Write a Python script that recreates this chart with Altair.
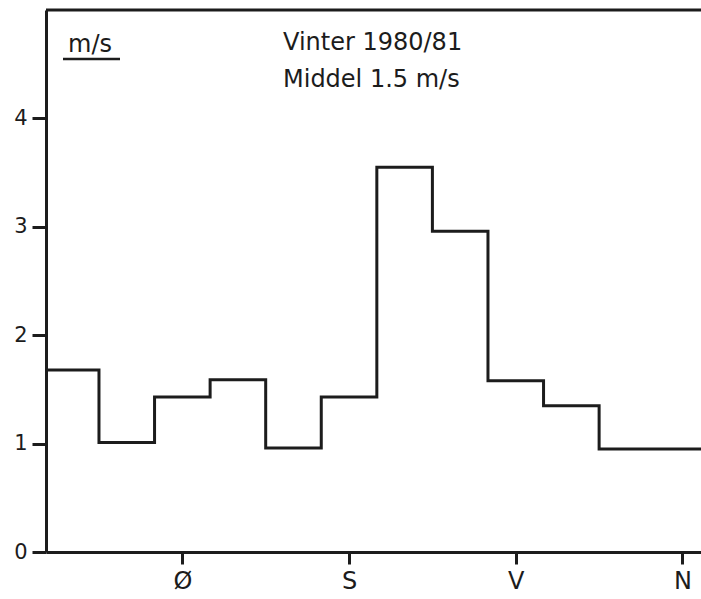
import altair as alt
import pandas as pd

# Sector edges (degrees) and mean wind speed (m/s) per 30° sector
sector_edges = [15, 45, 75, 105, 135, 165, 195, 225, 255, 285, 315, 345, 375]
mean_speed = [1.68, 1.01, 1.43, 1.59, 0.96, 1.43, 3.55, 2.96, 1.58, 1.35, 0.95, 0.95]

x_tick_values = [90, 180, 270, 360]
x_tick_labels = ["Ø", "S", "V", "N"]
y_tick_values = [0, 1, 2, 3, 4]
y_top = [5]

unit_text = ["m/s"]
title_lines = ["Vinter 1980/81", "Middel 1.5 m/s"]

INK = "#1c1c1c"
FONT = "DejaVu Sans"

df = pd.DataFrame({"dir": sector_edges, "speed": mean_speed + [mean_speed[-1]]})

label_expr = "{" + ",".join(f"'{v}':'{l}'" for v, l in zip(x_tick_values, x_tick_labels)) + "}[''+datum.value]"

x_scale = alt.Scale(domain=[16.4, 370], nice=False, zero=False)
y_scale = alt.Scale(domain=[0, 5], nice=False)

line = alt.Chart(df).mark_line(
    interpolate="step-after", clip=True, color=INK, strokeWidth=3
).encode(
    x=alt.X(
        "dir:Q", scale=x_scale,
        axis=alt.Axis(
            values=x_tick_values, labelExpr=label_expr, title=None, grid=False,
            tickSize=12, tickWidth=3, domainWidth=3, domainColor=INK, tickColor=INK,
            labelColor=INK, labelFont=FONT, labelFontSize=24, labelPadding=5,
        ),
    ),
    y=alt.Y(
        "speed:Q", scale=y_scale,
        axis=alt.Axis(
            values=y_tick_values, format="d", title=None, grid=False,
            tickSize=14, tickWidth=3, domainWidth=3, domainColor=INK, tickColor=INK,
            labelColor=INK, labelFont=FONT, labelFontSize=21, labelPadding=5,
        ),
    ),
)

top_rule = alt.Chart(pd.DataFrame({"top": y_top})).mark_rule(
    color=INK, strokeWidth=3
).encode(y=alt.Y("top:Q", scale=y_scale))

unit = alt.Chart(pd.DataFrame({"t": unit_text})).mark_text(
    align="left", baseline="alphabetic", font=FONT, fontSize=24, color=INK
).encode(x=alt.value(22), y=alt.value(42), text="t:N")

underline = alt.Chart(pd.DataFrame({"t": unit_text})).mark_rule(
    color=INK, strokeWidth=2.5
).encode(x=alt.value(17), x2=alt.value(74), y=alt.value(49))

title1 = alt.Chart(pd.DataFrame({"t": [title_lines[0]]})).mark_text(
    align="left", baseline="alphabetic", font=FONT, fontSize=24, color=INK
).encode(x=alt.value(237), y=alt.value(40), text="t:N")

title2 = alt.Chart(pd.DataFrame({"t": [title_lines[1]]})).mark_text(
    align="left", baseline="alphabetic", font=FONT, fontSize=24, color=INK
).encode(x=alt.value(237), y=alt.value(77), text="t:N")

chart = alt.layer(line, top_rule, underline, unit, title1, title2).properties(
    width=655,
    height=542,
    autosize=alt.AutoSizeParams(type="none"),
    padding={"left": 46, "top": 10, "right": 0, "bottom": 47},
    background="white",
).configure_view(stroke=None)

chart.save("out.html", embed_options={"renderer": "svg", "actions": False})
